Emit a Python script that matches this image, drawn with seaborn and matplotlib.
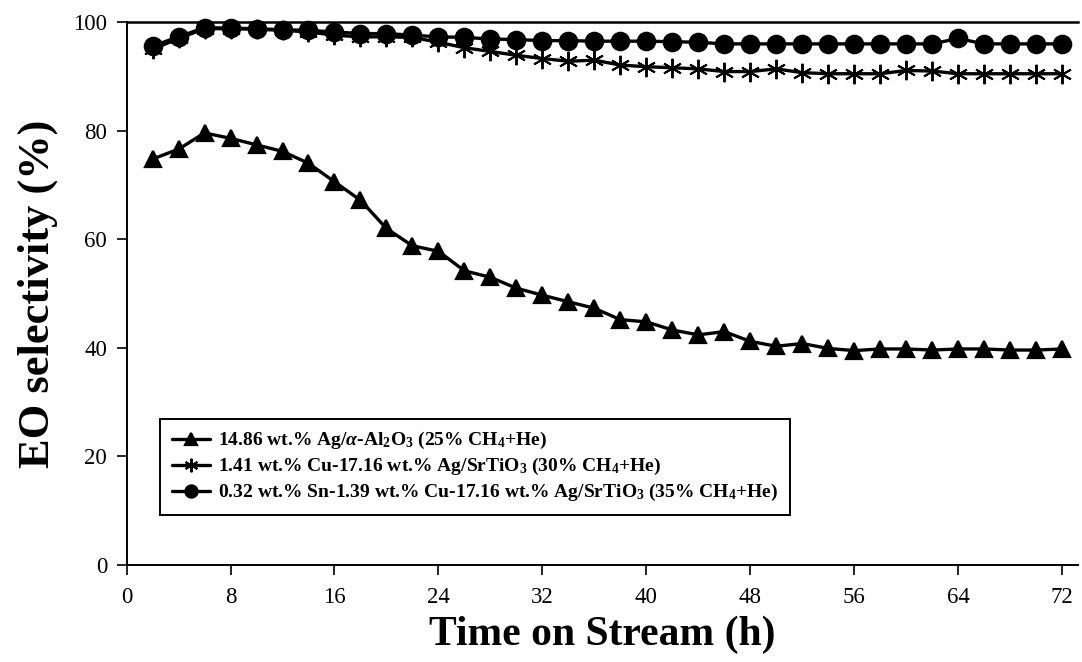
import matplotlib
matplotlib.use("Agg")
import matplotlib.pyplot as plt
import seaborn as sns
import pandas as pd

# ---- data ----
time_h = [2, 4, 6, 8, 10, 12, 14, 16, 18, 20, 22, 24, 26, 28, 30, 32, 34, 36,
          38, 40, 42, 44, 46, 48, 50, 52, 54, 56, 58, 60, 62, 64, 66, 68, 70, 72]

ag_alumina = [74.8, 76.6, 79.6, 78.6, 77.4, 76.2, 74.0, 70.6, 67.2, 62.0, 58.8, 57.8,
              54.2, 53.0, 51.0, 49.7, 48.5, 47.3, 45.2, 44.8, 43.3, 42.4, 43.0, 41.2,
              40.3, 40.8, 39.9, 39.5, 39.8, 39.8, 39.6, 39.8, 39.8, 39.6, 39.6, 39.8]

cu_ag_srtio3 = [95.0, 97.0, 98.8, 98.8, 98.7, 98.5, 98.2, 97.6, 97.3, 97.3, 97.2, 96.3,
                95.3, 94.6, 93.9, 93.3, 92.8, 93.0, 92.1, 91.8, 91.6, 91.4, 90.9, 90.9,
                91.4, 90.7, 90.5, 90.5, 90.5, 91.1, 91.0, 90.5, 90.5, 90.5, 90.5, 90.5]

sn_cu_ag_srtio3 = [95.6, 97.3, 99.0, 98.9, 98.8, 98.6, 98.5, 98.2, 97.9, 97.9, 97.6, 97.3,
                   97.2, 96.9, 96.8, 96.6, 96.6, 96.5, 96.5, 96.5, 96.4, 96.3, 96.0, 96.0,
                   96.0, 96.0, 96.0, 96.0, 96.0, 96.0, 96.0, 97.0, 96.0, 96.0, 96.0, 96.0]

labels = [
    r"14.86 wt.% Ag/$\alpha$-Al$_2$O$_3$ (25% CH$_4$+He)",
    r"1.41 wt.% Cu-17.16 wt.% Ag/SrTiO$_3$ (30% CH$_4$+He)",
    r"0.32 wt.% Sn-1.39 wt.% Cu-17.16 wt.% Ag/SrTiO$_3$ (35% CH$_4$+He)",
]
x_ticks = [0, 8, 16, 24, 32, 40, 48, 56, 64, 72]
y_ticks = [0, 20, 40, 60, 80, 100]

# ---- style ----
sns.set_style("ticks")
plt.rcParams["font.family"] = ["Liberation Serif", "DejaVu Serif"]
plt.rcParams["mathtext.fontset"] = "custom"
plt.rcParams["mathtext.rm"] = "Liberation Serif:bold"
plt.rcParams["mathtext.it"] = "Liberation Serif:italic:bold"
plt.rcParams["mathtext.bf"] = "Liberation Serif:bold"
plt.rcParams["text.color"] = "black"
plt.rcParams["axes.labelcolor"] = "black"
plt.rcParams["xtick.color"] = "black"
plt.rcParams["ytick.color"] = "black"

fig = plt.figure(figsize=(10.82, 6.62), dpi=100)
ax = fig.add_axes([0.117, 0.1465, 0.879, 0.820])

series = [ag_alumina, cu_ag_srtio3, sn_cu_ag_srtio3]
markers = ["^", (6, 2, 0), "o"]
msizes = [12, 14, 12.5]
mews = [1.6, 1.4, 1.6]
for vals, lab, mk, ms, mew in zip(series, labels, markers, msizes, mews):
    df = pd.DataFrame({"t": time_h, "v": vals})
    sns.lineplot(data=df, x="t", y="v", ax=ax, color="black", linewidth=2.4,
                 marker=mk, markersize=ms, markeredgecolor="black",
                 markeredgewidth=mew, markerfacecolor="black", label=lab,
                 clip_on=False)

ax.set_xlim(0, 73.2)
ax.set_ylim(0, 100)
ax.set_xticks(x_ticks)
ax.set_yticks(y_ticks)
ax.tick_params(axis="both", direction="out", length=7, width=1.2,
               labelsize=16.5, colors="black", pad=7)
ax.tick_params(axis="x", pad=9)

for side in ["left", "bottom", "top"]:
    ax.spines[side].set_visible(True)
    ax.spines[side].set_color("black")
    ax.spines[side].set_linewidth(1.4)
ax.spines["top"].set_linewidth(1.8)
ax.spines["right"].set_visible(False)

ax.set_xlabel("Time on Stream (h)", fontsize=30, fontweight="bold", labelpad=5,
              color="black")
ax.set_ylabel("EO selectivity (%)", fontsize=32, fontweight="bold", labelpad=11,
              color="black")

leg = ax.legend(loc="lower left", bbox_to_anchor=(0.035, 0.092), borderaxespad=0,
                frameon=True, fancybox=False, edgecolor="black", framealpha=1,
                prop={"family": "Liberation Serif", "weight": "bold", "size": 14},
                handlelength=2.0, handletextpad=0.4, labelspacing=0.25,
                borderpad=0.6, markerscale=0.7)
leg.get_frame().set_linewidth(1.4)
for txt in leg.get_texts():
    txt.set_color("black")

fig.savefig("out.png", dpi=100)
